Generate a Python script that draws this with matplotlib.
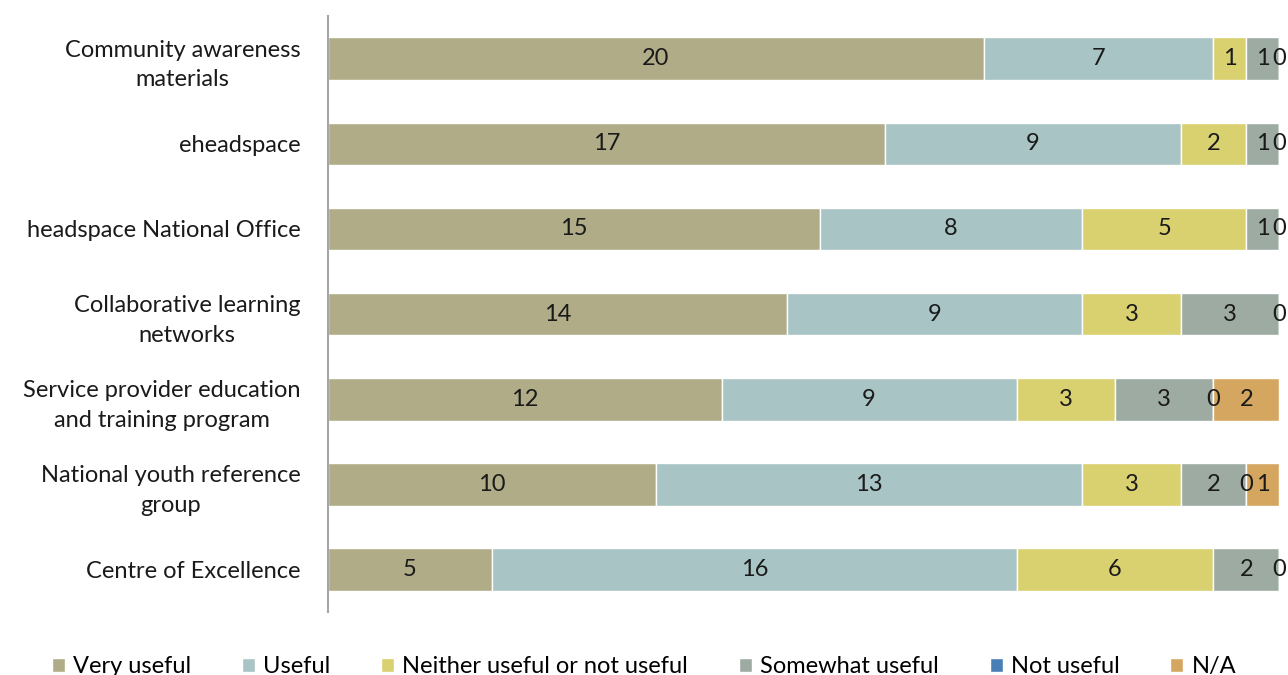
import matplotlib.pyplot as plt
import numpy as np

plt.rcParams['font.family'] = ['Lato', 'DejaVu Sans']

categories = ['Community awareness\nmaterials', 'eheadspace', 'headspace National Office',
              'Collaborative learning\nnetworks', 'Service provider education\nand training program',
              'National youth reference\ngroup', 'Centre of Excellence']
series = ['Very useful', 'Useful', 'Neither useful or not useful', 'Somewhat useful', 'Not useful', 'N/A']
very_useful = [20, 17, 15, 14, 12, 10, 5]
useful = [7, 9, 8, 9, 9, 13, 16]
neither = [1, 2, 5, 3, 3, 3, 6]
somewhat = [1, 1, 1, 3, 3, 2, 2]
not_useful = [0, 0, 0, 0, 0, 0, 0]
na = [0, 0, 0, 0, 2, 1, 0]
colors = ['#b0ac88', '#a9c4c4', '#d9d070', '#9eaba3', '#4a7eb6', '#d4a660']

vals = [very_useful, useful, neither, somewhat, not_useful, na]

fig = plt.figure(figsize=(12.88, 6.75), dpi=100)
ax = fig.add_axes([0.2547, 0.0933, 0.7383, 0.8827])

y = np.arange(len(categories))
left = np.zeros(len(categories))
for name, v, c in zip(series, vals, colors):
    v = np.array(v, dtype=float)
    ax.barh(y, v, left=left, height=0.5, color=c, edgecolor='white', linewidth=1, label=name)
    for i in range(len(categories)):
        if name == 'N/A' and v[i] == 0:
            continue
        ax.text(left[i] + v[i] / 2, y[i], str(int(v[i])), ha='center', va='center',
                fontsize=17, color='#1a1a1a')
    left += v

ax.set_xlim(0, 29)
ax.set_ylim(6.5, -0.5)
ax.set_yticks(y)
ax.set_yticklabels(categories, fontsize=17, color='#1a1a1a', linespacing=1.5,
                   multialignment='center')
ax.tick_params(axis='y', length=0, pad=20)
ax.set_xticks([])
for s in ['top', 'right', 'bottom']:
    ax.spines[s].set_visible(False)
ax.spines['left'].set_color('#a6a6a6')
ax.spines['left'].set_linewidth(1.5)

fig.legend(loc='center', bbox_to_anchor=(0.5, 0.012), ncol=6, frameon=False,
           fontsize=17, handlelength=0.55, handleheight=0.55, columnspacing=2.15, handletextpad=0.35)

fig.savefig('out.png', dpi=100)
